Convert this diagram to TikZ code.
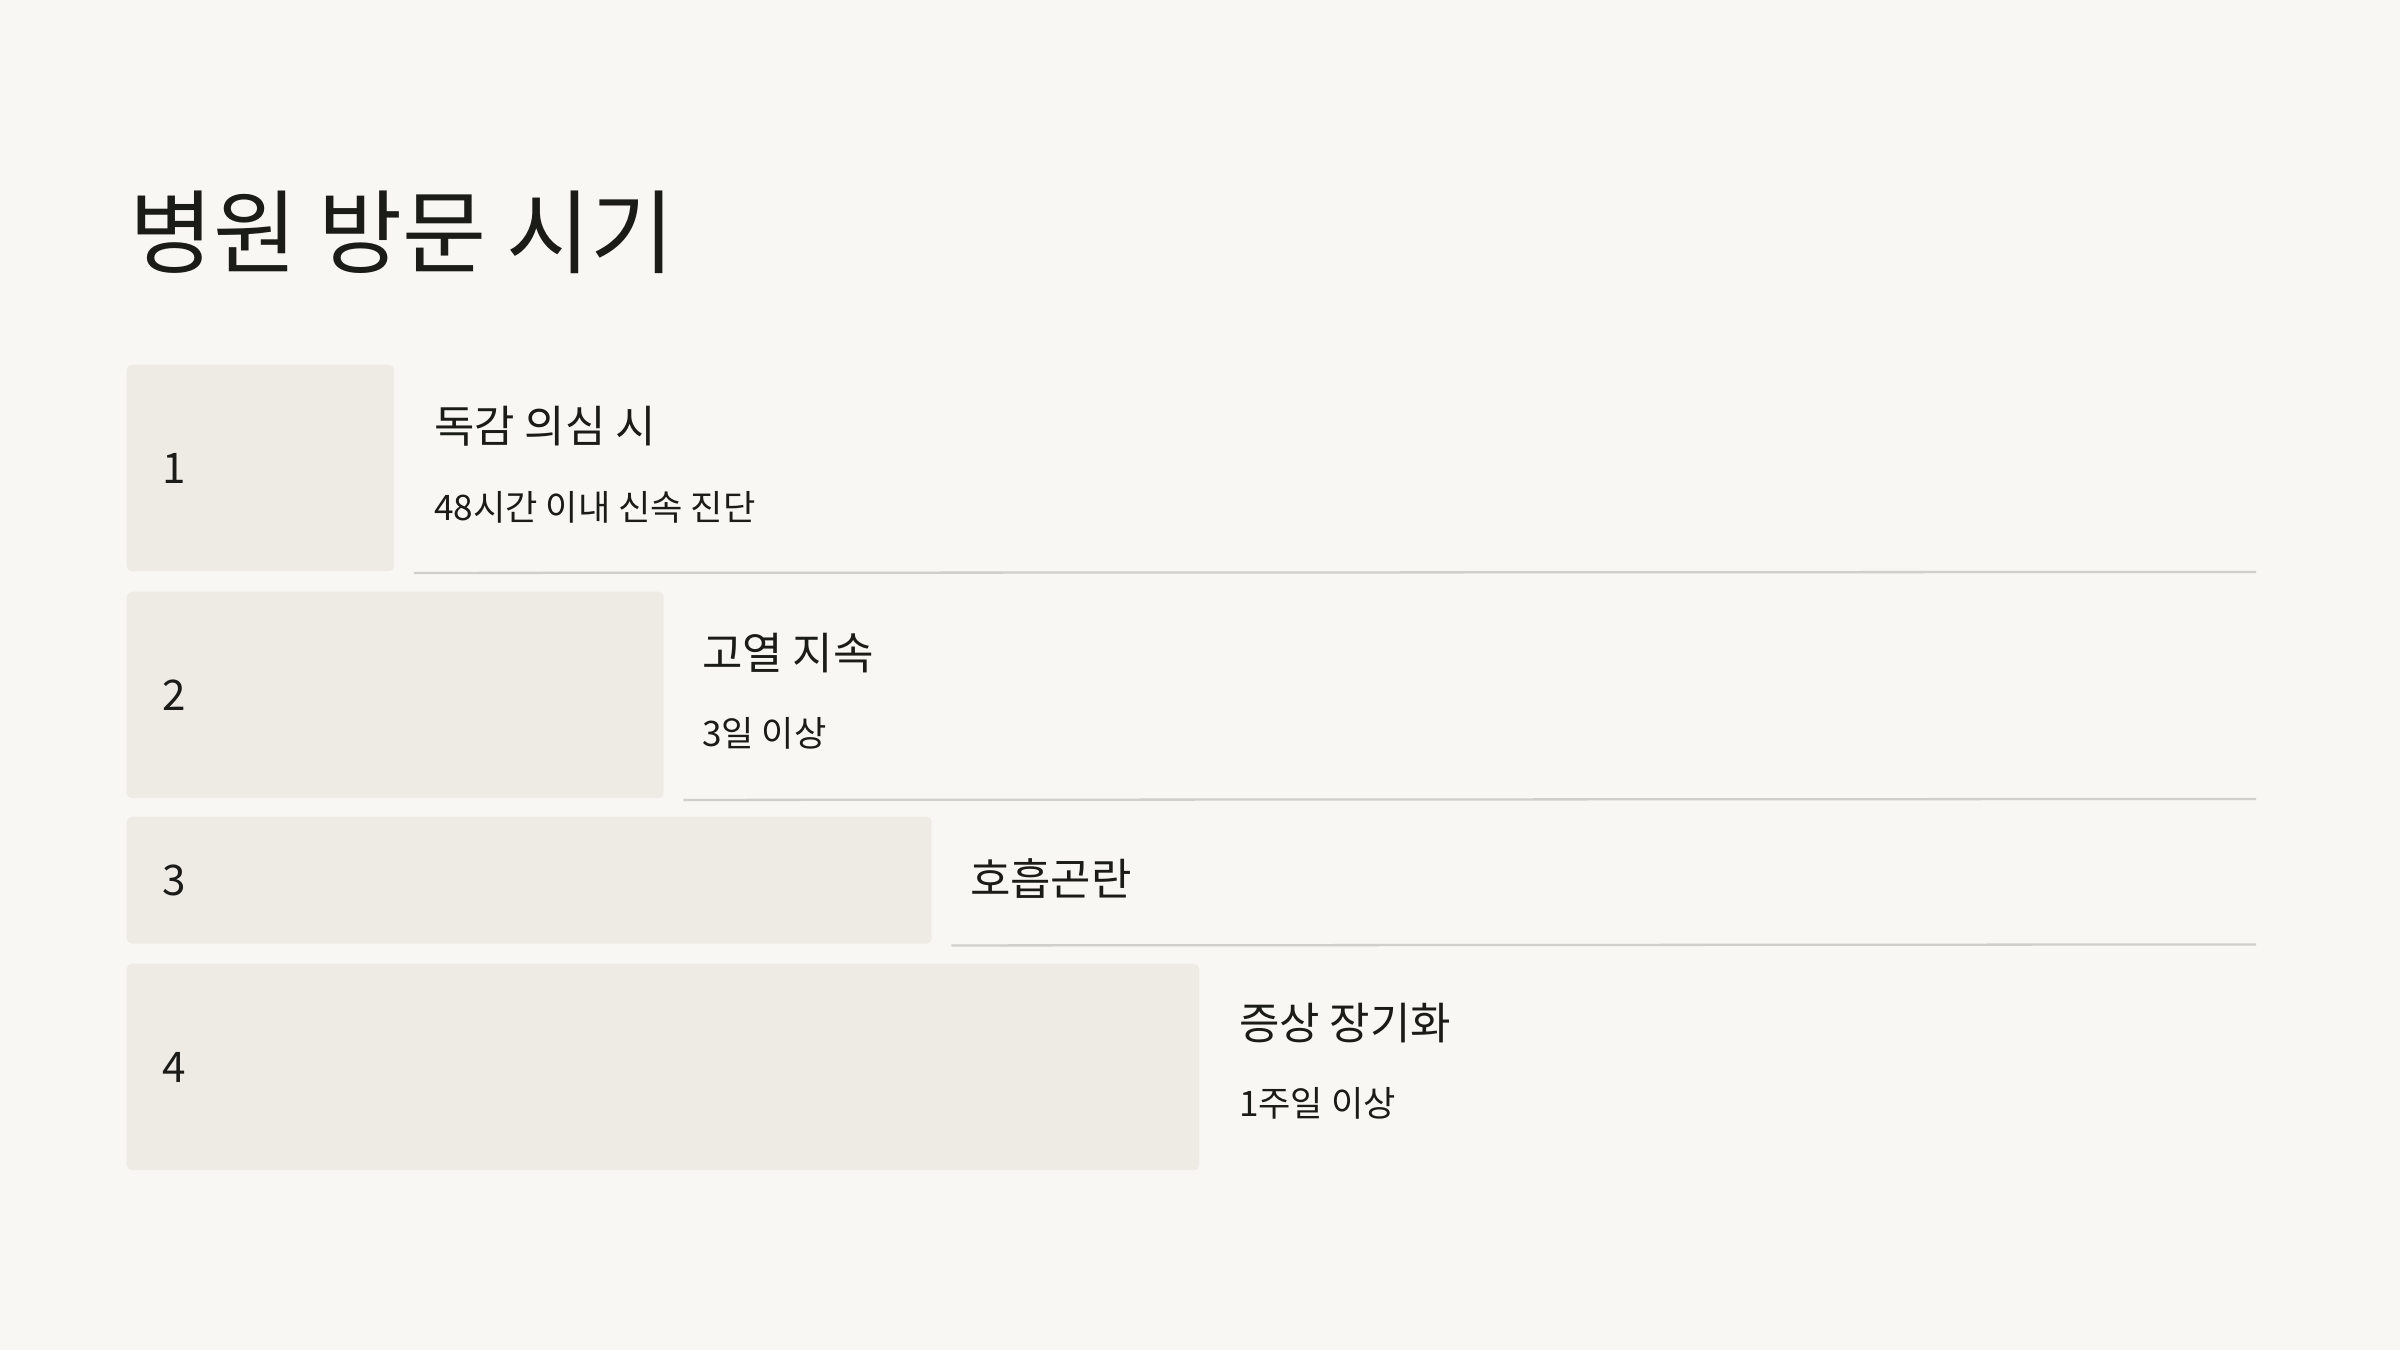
\documentclass[tikz,border=0pt]{standalone}
\usepackage{fontspec}
\setmainfont{Noto Sans CJK KR}
\usetikzlibrary{positioning}
\definecolor{paper}{HTML}{F8F7F4}
\definecolor{barfill}{HTML}{EEEBE5}
\definecolor{rulegray}{HTML}{D1CFC9}
\definecolor{ink}{HTML}{1B1B17}

\begin{document}
\begin{tikzpicture}
\tikzset{BarStyle/.style ={fill=barfill, rounded corners=1.5pt, anchor=north west, inner sep=0pt, minimum height=2.065cm}}
\tikzset{NumStyle/.style ={text=ink, anchor=west, inner sep=0pt, font=\fontsize{12}{14}\selectfont}}
\tikzset{HeadStyle/.style ={text=ink, anchor=west, inner sep=0pt, font=\fontsize{12.5}{15}\selectfont}}
\tikzset{SubStyle/.style ={text=ink, anchor=west, inner sep=0pt, font=\fontsize{10}{12}\selectfont}}
\tikzset{RuleStyle/.style ={draw=rulegray, line width=0.65pt}}
\fill[paper] (0,0) rectangle (24,-13.5);
\node[text=ink, anchor=west, inner sep=0pt, font=\fontsize{26}{30}\selectfont] (title) at (1.29,-2.32) {병원 방문 시기};
\coordinate (edge) at (22.56,0);
% bars
\node[BarStyle, minimum width=2.675cm] (bar1) at (1.26,-3.64) {};
\node[BarStyle, minimum width=5.37cm] (bar2) at (1.26,-5.91) {};
\node[BarStyle, minimum width=8.05cm, minimum height=1.27cm] (bar3) at (1.26,-8.16) {};
\node[BarStyle, minimum width=10.725cm] (bar4) at (1.26,-9.63) {};
% numbers
\node[NumStyle] (n1) at ([xshift=0.36cm]bar1.west) {1};
\node[NumStyle] (n2) at ([xshift=0.36cm]bar2.west) {2};
\node[NumStyle] (n3) at ([xshift=0.36cm]bar3.west) {3};
\node[NumStyle] (n4) at ([xshift=0.36cm]bar4.west) {4};
% texts
\node[HeadStyle] (h1) at ([xshift=0.385cm, yshift=0.42cm]bar1.east) {독감 의심 시};
\node[SubStyle] (s1) at ([xshift=0.385cm, yshift=-0.39cm]bar1.east) {48시간 이내 신속 진단};
\node[HeadStyle] (h2) at ([xshift=0.37cm, yshift=0.42cm]bar2.east) {고열 지속};
\node[SubStyle] (s2) at ([xshift=0.37cm, yshift=-0.38cm]bar2.east) {3일 이상};
\node[HeadStyle] (h3) at ([xshift=0.37cm, yshift=0.02cm]bar3.east) {호흡곤란};
\node[HeadStyle] (h4) at ([xshift=0.385cm, yshift=0.44cm]bar4.east) {증상 장기화};
\node[SubStyle] (s4) at ([xshift=0.385cm, yshift=-0.36cm]bar4.east) {1주일 이상};
% rules
\draw[RuleStyle] ([xshift=0.19cm, yshift=-0.01cm]bar1.south east) -- (edge |- bar1.south);
\draw[RuleStyle] ([xshift=0.19cm, yshift=-0.01cm]bar2.south east) -- (edge |- bar2.south);
\draw[RuleStyle] ([xshift=0.19cm, yshift=-0.01cm]bar3.south east) -- (edge |- bar3.south);
\end{tikzpicture}
\end{document}
